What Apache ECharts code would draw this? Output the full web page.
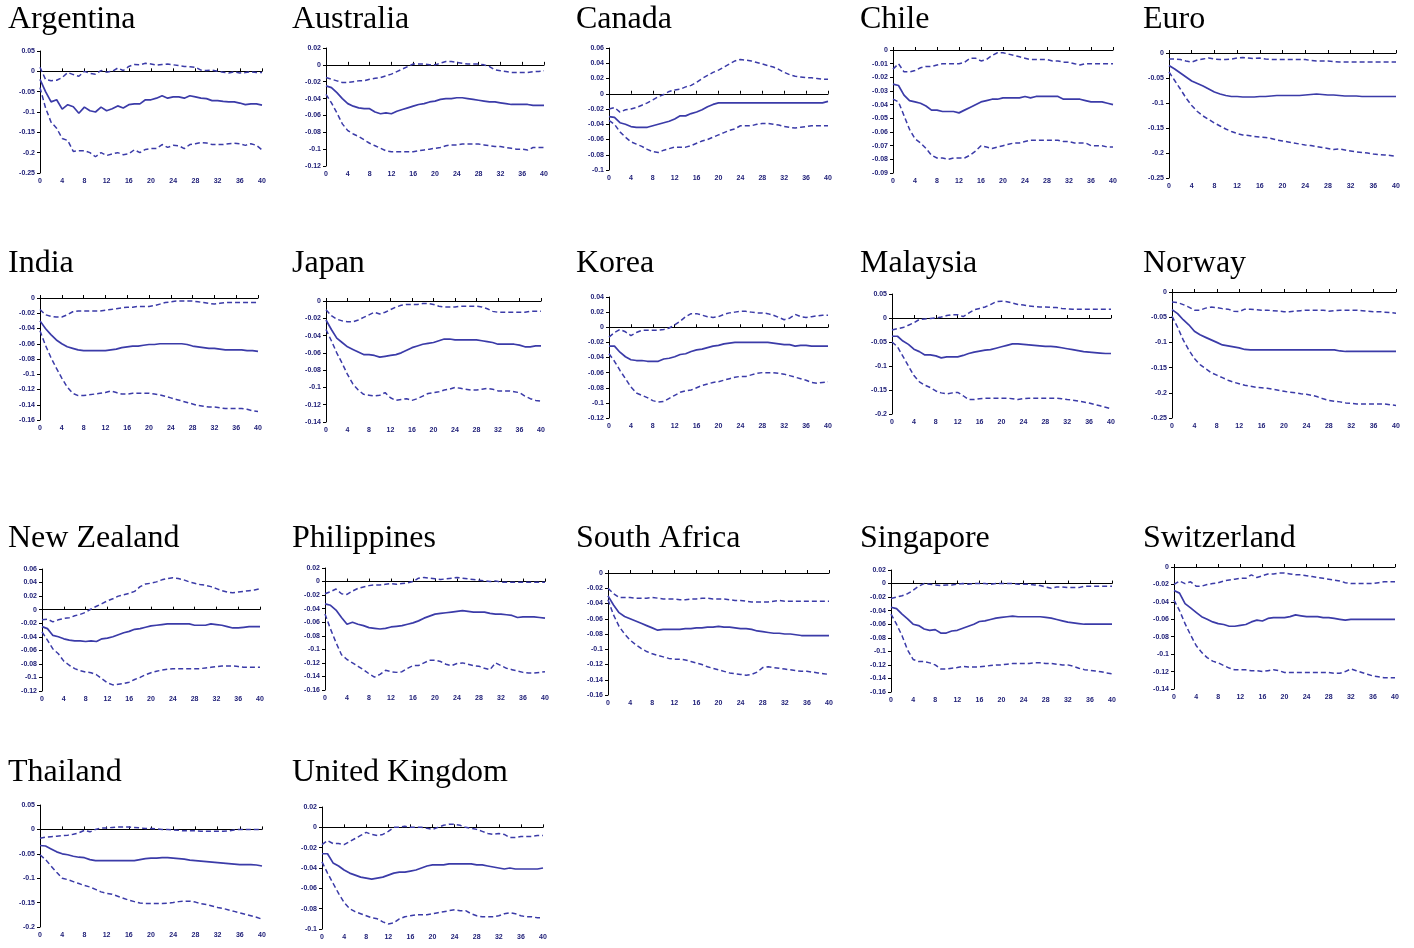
<!DOCTYPE html>
<html>
<head>
<meta charset="utf-8">
<title>Impulse responses by economy</title>
<script src="https://cdn.jsdelivr.net/npm/echarts@6.0.0/dist/echarts.min.js"></script>
<style>
  html, body { margin: 0; padding: 0; background: #ffffff; }
  #chart { width: 1414px; height: 948px; }
</style>
</head>
<body>
<div id="chart"></div>
<script>
// Horizon (quarters after the shock)
const PERIODS = Array.from({ length: 41 }, (_, i) => String(i));

const COUNTRIES = ['Argentina', 'Australia', 'Canada', 'Chile', 'Euro',
  'India', 'Japan', 'Korea', 'Malaysia', 'Norway',
  'New Zealand', 'Philippines', 'South Africa', 'Singapore', 'Switzerland',
  'Thailand', 'United Kingdom'];

// Y-axis ranges and tick steps per panel
const Y_MAX = [0.05, 0.02, 0.06, 0, 0, 0, 0, 0.04, 0.05, 0, 0.06, 0.02, 0, 0.02, 0, 0.05, 0.02];
const Y_MIN = [-0.25, -0.12, -0.1, -0.09, -0.25, -0.16, -0.14, -0.12, -0.2, -0.25, -0.12, -0.16, -0.16, -0.16, -0.14, -0.2, -0.1];
const Y_STEP = [0.05, 0.02, 0.02, 0.01, 0.05, 0.02, 0.02, 0.02, 0.05, 0.05, 0.02, 0.02, 0.02, 0.02, 0.02, 0.05, 0.02];

// Point response (solid) with upper / lower bands (dashed)
const ARGENTINA_IRF = [-0.02,-0.05,-0.075,-0.07,-0.093,-0.082,-0.087,-0.103,-0.088,-0.097,
  -0.1,-0.088,-0.097,-0.092,-0.085,-0.09,-0.082,-0.08,-0.08,-0.07,
  -0.07,-0.066,-0.06,-0.066,-0.063,-0.063,-0.066,-0.06,-0.063,-0.066,
  -0.067,-0.072,-0.072,-0.074,-0.075,-0.075,-0.078,-0.082,-0.08,-0.08,-0.083];
const ARGENTINA_UP = [0.01,-0.02,-0.023,-0.022,-0.015,-0.003,-0.008,-0.012,0,-0.005,
  -0.007,0.002,-0.002,0,0.008,0.002,0.012,0.017,0.016,0.02,
  0.018,0.015,0.017,0.018,0.016,0.014,0.012,0.011,0.01,0.003,
  0.002,0.003,0,-0.002,-0.004,-0.001,-0.004,-0.003,-0.001,-0.003,-0.003];
const ARGENTINA_LO = [-0.04,-0.09,-0.125,-0.14,-0.165,-0.17,-0.197,-0.195,-0.195,-0.2,
  -0.21,-0.2,-0.207,-0.203,-0.2,-0.205,-0.203,-0.193,-0.2,-0.192,
  -0.19,-0.19,-0.18,-0.187,-0.182,-0.183,-0.19,-0.18,-0.178,-0.175,
  -0.176,-0.18,-0.18,-0.18,-0.178,-0.177,-0.178,-0.182,-0.178,-0.182,-0.193];

const AUSTRALIA_IRF = [-0.025,-0.027,-0.033,-0.04,-0.046,-0.049,-0.051,-0.052,-0.052,-0.056,
  -0.058,-0.057,-0.058,-0.055,-0.053,-0.051,-0.049,-0.047,-0.046,-0.044,
  -0.043,-0.041,-0.04,-0.04,-0.039,-0.039,-0.04,-0.041,-0.042,-0.043,
  -0.044,-0.044,-0.045,-0.046,-0.047,-0.047,-0.047,-0.047,-0.048,-0.048,-0.048];
const AUSTRALIA_UP = [-0.015,-0.017,-0.019,-0.021,-0.021,-0.02,-0.019,-0.019,-0.017,-0.016,
  -0.015,-0.013,-0.011,-0.008,-0.005,-0.002,0.001,0.001,0.001,0,
  0,0.002,0.004,0.004,0.003,0.002,0.001,0.001,0.001,0,
  -0.002,-0.006,-0.007,-0.008,-0.009,-0.009,-0.009,-0.009,-0.008,-0.008,-0.007];
const AUSTRALIA_LO = [-0.035,-0.045,-0.057,-0.07,-0.078,-0.082,-0.085,-0.089,-0.093,-0.096,
  -0.099,-0.102,-0.103,-0.103,-0.103,-0.103,-0.103,-0.102,-0.101,-0.1,
  -0.099,-0.098,-0.096,-0.095,-0.095,-0.094,-0.094,-0.094,-0.094,-0.095,
  -0.096,-0.097,-0.097,-0.098,-0.099,-0.1,-0.1,-0.101,-0.098,-0.098,-0.098];

const CANADA_IRF = [-0.03,-0.031,-0.038,-0.04,-0.043,-0.044,-0.044,-0.044,-0.042,-0.04,
  -0.038,-0.036,-0.033,-0.029,-0.029,-0.026,-0.024,-0.021,-0.017,-0.014,
  -0.012,-0.012,-0.012,-0.012,-0.012,-0.012,-0.012,-0.012,-0.012,-0.012,
  -0.012,-0.012,-0.012,-0.012,-0.012,-0.012,-0.012,-0.012,-0.012,-0.012,-0.01];
const CANADA_UP = [-0.02,-0.018,-0.024,-0.021,-0.02,-0.018,-0.015,-0.012,-0.008,-0.004,
  -0.001,0.003,0.005,0.006,0.009,0.011,0.015,0.02,0.024,0.028,
  0.031,0.035,0.039,0.043,0.045,0.044,0.043,0.041,0.039,0.037,
  0.035,0.032,0.028,0.025,0.023,0.022,0.021,0.021,0.02,0.019,0.019];
const CANADA_LO = [-0.035,-0.04,-0.05,-0.057,-0.063,-0.066,-0.069,-0.073,-0.076,-0.077,
  -0.074,-0.072,-0.07,-0.07,-0.07,-0.068,-0.065,-0.062,-0.06,-0.057,
  -0.054,-0.051,-0.048,-0.046,-0.042,-0.042,-0.042,-0.04,-0.039,-0.039,
  -0.04,-0.041,-0.043,-0.044,-0.045,-0.044,-0.043,-0.042,-0.042,-0.042,-0.042];

const CHILE_IRF = [-0.025,-0.026,-0.033,-0.037,-0.038,-0.039,-0.041,-0.044,-0.044,-0.045,
  -0.045,-0.045,-0.046,-0.044,-0.042,-0.04,-0.038,-0.037,-0.036,-0.036,
  -0.035,-0.035,-0.035,-0.035,-0.034,-0.035,-0.034,-0.034,-0.034,-0.034,
  -0.034,-0.036,-0.036,-0.036,-0.036,-0.037,-0.038,-0.038,-0.038,-0.039,-0.04];
const CHILE_UP = [-0.014,-0.01,-0.016,-0.016,-0.015,-0.013,-0.012,-0.012,-0.011,-0.01,
  -0.01,-0.01,-0.01,-0.009,-0.006,-0.006,-0.008,-0.007,-0.004,-0.002,
  -0.002,-0.003,-0.004,-0.005,-0.006,-0.007,-0.007,-0.007,-0.007,-0.008,
  -0.008,-0.009,-0.009,-0.01,-0.011,-0.01,-0.01,-0.01,-0.01,-0.01,-0.01];
const CHILE_LO = [-0.036,-0.038,-0.048,-0.058,-0.065,-0.068,-0.072,-0.077,-0.079,-0.079,
  -0.08,-0.079,-0.079,-0.079,-0.077,-0.074,-0.07,-0.071,-0.072,-0.071,
  -0.07,-0.069,-0.068,-0.068,-0.067,-0.066,-0.066,-0.066,-0.066,-0.066,
  -0.066,-0.067,-0.067,-0.068,-0.068,-0.068,-0.07,-0.07,-0.07,-0.071,-0.071];

const EURO_IRF = [-0.025,-0.032,-0.04,-0.048,-0.056,-0.061,-0.066,-0.072,-0.078,-0.082,
  -0.085,-0.087,-0.087,-0.088,-0.088,-0.088,-0.087,-0.087,-0.086,-0.085,
  -0.085,-0.085,-0.085,-0.085,-0.084,-0.083,-0.082,-0.083,-0.084,-0.084,
  -0.085,-0.086,-0.086,-0.086,-0.087,-0.087,-0.087,-0.087,-0.087,-0.087,-0.087];
const EURO_UP = [-0.012,-0.012,-0.013,-0.016,-0.018,-0.014,-0.012,-0.01,-0.012,-0.013,
  -0.013,-0.012,-0.01,-0.009,-0.01,-0.011,-0.01,-0.012,-0.013,-0.013,
  -0.013,-0.013,-0.013,-0.013,-0.013,-0.015,-0.016,-0.016,-0.016,-0.017,
  -0.018,-0.018,-0.018,-0.018,-0.018,-0.018,-0.018,-0.018,-0.018,-0.018,-0.018];
const EURO_LO = [-0.038,-0.055,-0.072,-0.09,-0.105,-0.117,-0.126,-0.133,-0.14,-0.146,
  -0.152,-0.157,-0.161,-0.164,-0.165,-0.167,-0.168,-0.169,-0.171,-0.174,
  -0.176,-0.178,-0.18,-0.182,-0.184,-0.185,-0.187,-0.189,-0.191,-0.193,
  -0.192,-0.194,-0.196,-0.198,-0.199,-0.2,-0.202,-0.203,-0.204,-0.205,-0.207];

const INDIA_IRF = [-0.03,-0.04,-0.048,-0.055,-0.06,-0.064,-0.066,-0.068,-0.069,-0.069,
  -0.069,-0.069,-0.069,-0.068,-0.067,-0.065,-0.064,-0.063,-0.063,-0.062,
  -0.061,-0.061,-0.06,-0.06,-0.06,-0.06,-0.06,-0.061,-0.063,-0.064,
  -0.065,-0.066,-0.066,-0.067,-0.068,-0.068,-0.068,-0.068,-0.069,-0.069,-0.07];
const INDIA_UP = [-0.015,-0.022,-0.024,-0.025,-0.025,-0.022,-0.018,-0.017,-0.017,-0.017,
  -0.017,-0.017,-0.016,-0.015,-0.014,-0.013,-0.012,-0.012,-0.011,-0.011,
  -0.011,-0.01,-0.008,-0.006,-0.005,-0.004,-0.004,-0.004,-0.004,-0.005,
  -0.006,-0.007,-0.008,-0.007,-0.006,-0.006,-0.006,-0.006,-0.006,-0.006,-0.006];
const INDIA_LO = [-0.043,-0.062,-0.078,-0.092,-0.105,-0.117,-0.125,-0.128,-0.128,-0.127,
  -0.126,-0.125,-0.124,-0.122,-0.124,-0.126,-0.126,-0.125,-0.125,-0.125,
  -0.125,-0.126,-0.127,-0.129,-0.131,-0.133,-0.135,-0.137,-0.139,-0.141,
  -0.142,-0.143,-0.143,-0.144,-0.145,-0.145,-0.145,-0.145,-0.146,-0.148,-0.149];

const JAPAN_IRF = [-0.022,-0.033,-0.043,-0.048,-0.053,-0.056,-0.059,-0.062,-0.062,-0.063,
  -0.065,-0.064,-0.063,-0.062,-0.06,-0.057,-0.054,-0.052,-0.05,-0.049,
  -0.048,-0.046,-0.044,-0.044,-0.045,-0.045,-0.045,-0.045,-0.045,-0.046,
  -0.047,-0.048,-0.05,-0.05,-0.05,-0.05,-0.051,-0.053,-0.053,-0.052,-0.052];
const JAPAN_UP = [-0.01,-0.017,-0.021,-0.023,-0.024,-0.024,-0.022,-0.019,-0.016,-0.013,
  -0.015,-0.013,-0.01,-0.007,-0.005,-0.004,-0.004,-0.004,-0.003,-0.003,
  -0.004,-0.006,-0.007,-0.007,-0.007,-0.006,-0.006,-0.006,-0.006,-0.007,
  -0.009,-0.012,-0.013,-0.013,-0.013,-0.013,-0.013,-0.013,-0.012,-0.012,-0.012];
const JAPAN_LO = [-0.033,-0.046,-0.06,-0.072,-0.085,-0.096,-0.103,-0.108,-0.109,-0.11,
  -0.109,-0.106,-0.112,-0.115,-0.114,-0.113,-0.115,-0.113,-0.11,-0.107,
  -0.106,-0.105,-0.103,-0.102,-0.1,-0.101,-0.102,-0.103,-0.103,-0.102,
  -0.101,-0.102,-0.104,-0.104,-0.104,-0.105,-0.106,-0.11,-0.113,-0.115,-0.116];

const KOREA_IRF = [-0.025,-0.025,-0.033,-0.039,-0.043,-0.044,-0.044,-0.045,-0.045,-0.045,
  -0.042,-0.041,-0.039,-0.036,-0.035,-0.032,-0.03,-0.029,-0.027,-0.025,
  -0.024,-0.022,-0.021,-0.02,-0.02,-0.02,-0.02,-0.02,-0.02,-0.02,
  -0.021,-0.022,-0.023,-0.023,-0.025,-0.024,-0.024,-0.025,-0.025,-0.025,-0.025];
const KOREA_UP = [-0.013,-0.007,-0.003,-0.006,-0.011,-0.007,-0.004,-0.004,-0.004,-0.004,
  -0.003,-0.001,0.003,0.008,0.014,0.018,0.018,0.016,0.014,0.013,
  0.014,0.017,0.019,0.02,0.021,0.021,0.02,0.019,0.019,0.018,
  0.016,0.013,0.01,0.012,0.017,0.014,0.013,0.014,0.015,0.016,0.016];
const KOREA_LO = [-0.035,-0.045,-0.057,-0.068,-0.079,-0.087,-0.09,-0.093,-0.097,-0.099,
  -0.098,-0.094,-0.09,-0.086,-0.084,-0.083,-0.08,-0.077,-0.075,-0.073,
  -0.072,-0.07,-0.068,-0.066,-0.065,-0.065,-0.063,-0.061,-0.06,-0.06,
  -0.06,-0.061,-0.062,-0.064,-0.066,-0.068,-0.07,-0.073,-0.074,-0.073,-0.072];

const MALAYSIA_IRF = [-0.038,-0.038,-0.048,-0.055,-0.065,-0.07,-0.077,-0.077,-0.079,-0.083,
  -0.081,-0.081,-0.081,-0.078,-0.074,-0.071,-0.069,-0.067,-0.066,-0.063,
  -0.06,-0.057,-0.054,-0.054,-0.055,-0.056,-0.057,-0.058,-0.059,-0.059,
  -0.06,-0.062,-0.064,-0.066,-0.068,-0.07,-0.071,-0.072,-0.073,-0.074,-0.074];
const MALAYSIA_UP = [-0.025,-0.022,-0.02,-0.015,-0.01,-0.003,-0.002,-0.001,0,0.002,
  0.005,0.007,0.007,0.003,0.01,0.017,0.02,0.023,0.028,0.034,
  0.035,0.034,0.031,0.028,0.027,0.025,0.024,0.023,0.023,0.022,
  0.022,0.02,0.019,0.018,0.018,0.018,0.018,0.018,0.018,0.018,0.018];
const MALAYSIA_LO = [-0.05,-0.06,-0.08,-0.1,-0.12,-0.133,-0.14,-0.145,-0.152,-0.156,
  -0.158,-0.156,-0.155,-0.162,-0.17,-0.17,-0.168,-0.167,-0.167,-0.167,
  -0.167,-0.167,-0.168,-0.17,-0.168,-0.167,-0.167,-0.167,-0.167,-0.167,
  -0.167,-0.168,-0.17,-0.171,-0.173,-0.175,-0.177,-0.18,-0.183,-0.186,-0.189];

const NORWAY_IRF = [-0.035,-0.043,-0.055,-0.065,-0.078,-0.085,-0.09,-0.095,-0.1,-0.105,
  -0.107,-0.109,-0.111,-0.114,-0.115,-0.115,-0.115,-0.115,-0.115,-0.115,
  -0.115,-0.115,-0.115,-0.115,-0.115,-0.115,-0.115,-0.115,-0.115,-0.115,
  -0.117,-0.118,-0.118,-0.118,-0.118,-0.118,-0.118,-0.118,-0.118,-0.118,-0.118];
const NORWAY_UP = [-0.02,-0.021,-0.025,-0.03,-0.036,-0.036,-0.032,-0.03,-0.031,-0.033,
  -0.034,-0.038,-0.039,-0.034,-0.034,-0.035,-0.036,-0.036,-0.037,-0.038,
  -0.039,-0.039,-0.038,-0.037,-0.036,-0.036,-0.036,-0.036,-0.038,-0.037,
  -0.036,-0.036,-0.036,-0.036,-0.037,-0.038,-0.039,-0.039,-0.04,-0.041,-0.042];
const NORWAY_LO = [-0.048,-0.07,-0.095,-0.115,-0.132,-0.144,-0.152,-0.16,-0.165,-0.17,
  -0.175,-0.179,-0.182,-0.185,-0.187,-0.189,-0.19,-0.191,-0.193,-0.195,
  -0.197,-0.199,-0.2,-0.202,-0.203,-0.205,-0.208,-0.212,-0.215,-0.217,
  -0.218,-0.22,-0.221,-0.222,-0.222,-0.222,-0.222,-0.222,-0.222,-0.224,-0.225];

const NEW_ZEALAND_IRF = [-0.025,-0.028,-0.038,-0.04,-0.043,-0.045,-0.046,-0.046,-0.047,-0.046,
  -0.047,-0.043,-0.042,-0.04,-0.037,-0.034,-0.032,-0.029,-0.028,-0.026,
  -0.024,-0.023,-0.022,-0.021,-0.021,-0.021,-0.021,-0.021,-0.023,-0.023,
  -0.023,-0.021,-0.022,-0.023,-0.025,-0.027,-0.027,-0.026,-0.025,-0.025,-0.025];
const NEW_ZEALAND_UP = [-0.015,-0.014,-0.018,-0.015,-0.013,-0.012,-0.009,-0.007,-0.004,0.001,
  0.005,0.009,0.013,0.016,0.02,0.022,0.024,0.027,0.034,0.038,
  0.039,0.041,0.044,0.046,0.047,0.046,0.044,0.041,0.039,0.037,
  0.036,0.034,0.031,0.028,0.026,0.025,0.026,0.027,0.028,0.029,0.031];
const NEW_ZEALAND_LO = [-0.033,-0.045,-0.058,-0.065,-0.076,-0.082,-0.087,-0.09,-0.092,-0.093,
  -0.096,-0.102,-0.108,-0.111,-0.11,-0.109,-0.107,-0.103,-0.1,-0.096,
  -0.093,-0.091,-0.089,-0.088,-0.087,-0.087,-0.087,-0.087,-0.087,-0.087,
  -0.086,-0.085,-0.084,-0.083,-0.083,-0.083,-0.084,-0.085,-0.085,-0.085,-0.085];

const PHILIPPINES_IRF = [-0.033,-0.035,-0.042,-0.053,-0.063,-0.06,-0.063,-0.065,-0.068,-0.069,
  -0.07,-0.069,-0.067,-0.066,-0.065,-0.063,-0.061,-0.058,-0.054,-0.051,
  -0.048,-0.047,-0.046,-0.045,-0.044,-0.043,-0.044,-0.045,-0.045,-0.045,
  -0.047,-0.048,-0.048,-0.049,-0.05,-0.053,-0.052,-0.052,-0.052,-0.053,-0.054];
const PHILIPPINES_UP = [-0.018,-0.015,-0.011,-0.018,-0.019,-0.014,-0.01,-0.008,-0.006,-0.005,
  -0.005,-0.004,-0.003,-0.004,-0.003,-0.002,0,0.005,0.006,0.005,
  0.004,0.003,0.004,0.005,0.006,0.005,0.004,0.003,0.002,0.001,
  0,0.001,-0.001,-0.001,-0.001,-0.001,-0.001,-0.001,-0.001,-0.001,-0.001];
const PHILIPPINES_LO = [-0.048,-0.07,-0.09,-0.108,-0.115,-0.12,-0.125,-0.13,-0.136,-0.141,
  -0.137,-0.131,-0.133,-0.134,-0.133,-0.128,-0.124,-0.124,-0.12,-0.116,
  -0.116,-0.118,-0.122,-0.124,-0.121,-0.12,-0.122,-0.124,-0.125,-0.128,
  -0.13,-0.12,-0.124,-0.128,-0.13,-0.132,-0.134,-0.135,-0.135,-0.134,-0.133];

const SOUTH_AFRICA_IRF = [-0.03,-0.042,-0.052,-0.057,-0.06,-0.063,-0.066,-0.069,-0.072,-0.075,
  -0.074,-0.074,-0.074,-0.074,-0.073,-0.073,-0.072,-0.072,-0.071,-0.071,
  -0.07,-0.071,-0.071,-0.072,-0.073,-0.073,-0.074,-0.076,-0.077,-0.078,
  -0.079,-0.079,-0.08,-0.08,-0.081,-0.082,-0.082,-0.082,-0.082,-0.082,-0.082];
const SOUTH_AFRICA_UP = [-0.02,-0.027,-0.032,-0.032,-0.032,-0.033,-0.033,-0.033,-0.032,-0.033,
  -0.034,-0.034,-0.034,-0.035,-0.035,-0.034,-0.034,-0.033,-0.033,-0.034,
  -0.034,-0.034,-0.035,-0.036,-0.036,-0.037,-0.038,-0.038,-0.038,-0.038,
  -0.037,-0.036,-0.037,-0.037,-0.037,-0.037,-0.037,-0.037,-0.037,-0.037,-0.037];
const SOUTH_AFRICA_LO = [-0.035,-0.055,-0.07,-0.08,-0.088,-0.094,-0.099,-0.103,-0.106,-0.108,
  -0.11,-0.112,-0.113,-0.113,-0.114,-0.116,-0.118,-0.12,-0.123,-0.125,
  -0.127,-0.129,-0.131,-0.132,-0.133,-0.134,-0.133,-0.13,-0.124,-0.123,
  -0.124,-0.125,-0.126,-0.127,-0.128,-0.129,-0.129,-0.13,-0.131,-0.132,-0.133];

const SINGAPORE_IRF = [-0.035,-0.037,-0.045,-0.052,-0.06,-0.062,-0.067,-0.069,-0.068,-0.073,
  -0.073,-0.07,-0.069,-0.066,-0.063,-0.06,-0.056,-0.055,-0.053,-0.051,
  -0.05,-0.049,-0.048,-0.049,-0.049,-0.049,-0.049,-0.049,-0.05,-0.051,
  -0.053,-0.055,-0.057,-0.058,-0.059,-0.06,-0.06,-0.06,-0.06,-0.06,-0.06];
const SINGAPORE_UP = [-0.022,-0.02,-0.018,-0.015,-0.01,-0.004,0,-0.001,-0.002,-0.003,
  -0.002,-0.002,-0.001,0,-0.001,0,0,0,-0.001,0,
  0,0,0,-0.001,-0.001,-0.001,-0.002,-0.003,-0.005,-0.007,
  -0.005,-0.005,-0.006,-0.006,-0.006,-0.004,-0.004,-0.004,-0.004,-0.004,-0.004];
const SINGAPORE_LO = [-0.045,-0.06,-0.077,-0.098,-0.112,-0.115,-0.115,-0.117,-0.12,-0.126,
  -0.126,-0.125,-0.124,-0.122,-0.123,-0.123,-0.123,-0.122,-0.121,-0.12,
  -0.12,-0.119,-0.118,-0.118,-0.118,-0.118,-0.117,-0.117,-0.118,-0.118,
  -0.119,-0.12,-0.12,-0.122,-0.125,-0.127,-0.128,-0.129,-0.13,-0.132,-0.133];

const SWITZERLAND_IRF = [-0.027,-0.03,-0.042,-0.047,-0.052,-0.057,-0.06,-0.063,-0.065,-0.066,
  -0.068,-0.068,-0.067,-0.066,-0.063,-0.061,-0.062,-0.059,-0.058,-0.058,
  -0.058,-0.057,-0.055,-0.056,-0.057,-0.057,-0.057,-0.058,-0.058,-0.059,
  -0.06,-0.061,-0.06,-0.06,-0.06,-0.06,-0.06,-0.06,-0.06,-0.06,-0.06];
const SWITZERLAND_UP = [-0.02,-0.016,-0.019,-0.017,-0.022,-0.022,-0.02,-0.019,-0.018,-0.016,
  -0.015,-0.014,-0.013,-0.013,-0.009,-0.012,-0.01,-0.008,-0.008,-0.007,
  -0.007,-0.008,-0.009,-0.009,-0.01,-0.011,-0.012,-0.013,-0.014,-0.015,
  -0.016,-0.018,-0.019,-0.019,-0.019,-0.019,-0.019,-0.018,-0.017,-0.017,-0.017];
const SWITZERLAND_LO = [-0.038,-0.05,-0.065,-0.078,-0.09,-0.098,-0.104,-0.108,-0.11,-0.113,
  -0.116,-0.118,-0.118,-0.118,-0.119,-0.119,-0.12,-0.119,-0.118,-0.119,
  -0.121,-0.121,-0.121,-0.121,-0.121,-0.121,-0.121,-0.121,-0.121,-0.122,
  -0.122,-0.12,-0.117,-0.119,-0.121,-0.123,-0.125,-0.126,-0.127,-0.127,-0.127];

const THAILAND_IRF = [-0.033,-0.034,-0.04,-0.046,-0.05,-0.052,-0.055,-0.057,-0.058,-0.062,
  -0.064,-0.064,-0.064,-0.064,-0.064,-0.064,-0.064,-0.064,-0.062,-0.06,
  -0.059,-0.059,-0.058,-0.058,-0.059,-0.06,-0.061,-0.063,-0.064,-0.065,
  -0.066,-0.067,-0.068,-0.069,-0.07,-0.071,-0.072,-0.072,-0.072,-0.073,-0.075];
const THAILAND_UP = [-0.018,-0.016,-0.015,-0.014,-0.013,-0.012,-0.01,-0.007,-0.002,-0.005,
  0,0.003,0.003,0.004,0.005,0.005,0.005,0.004,0.003,0.002,
  0.002,0.001,0,0,-0.001,-0.002,-0.003,-0.003,-0.003,-0.004,
  -0.004,-0.004,-0.004,-0.004,-0.003,-0.001,0,0,0,0,0];
const THAILAND_LO = [-0.052,-0.062,-0.075,-0.088,-0.1,-0.103,-0.107,-0.111,-0.115,-0.118,
  -0.123,-0.128,-0.131,-0.133,-0.137,-0.141,-0.145,-0.148,-0.151,-0.152,
  -0.152,-0.152,-0.152,-0.151,-0.15,-0.148,-0.147,-0.147,-0.149,-0.152,
  -0.154,-0.157,-0.16,-0.162,-0.165,-0.168,-0.171,-0.174,-0.177,-0.18,-0.184];

const UK_IRF = [-0.026,-0.026,-0.035,-0.038,-0.042,-0.045,-0.047,-0.049,-0.05,-0.051,
  -0.05,-0.049,-0.047,-0.045,-0.044,-0.044,-0.043,-0.042,-0.04,-0.038,
  -0.037,-0.037,-0.037,-0.036,-0.036,-0.036,-0.036,-0.036,-0.037,-0.037,
  -0.038,-0.039,-0.04,-0.041,-0.04,-0.041,-0.041,-0.041,-0.041,-0.041,-0.04];
const UK_UP = [-0.017,-0.013,-0.016,-0.016,-0.017,-0.014,-0.011,-0.008,-0.005,-0.007,
  -0.008,-0.007,-0.004,0,0,0.001,0,0,0,-0.001,
  -0.002,0,0.002,0.003,0.003,0.002,0,-0.001,-0.002,-0.004,
  -0.006,-0.007,-0.006,-0.007,-0.01,-0.01,-0.009,-0.009,-0.009,-0.008,-0.008];
const UK_LO = [-0.034,-0.045,-0.055,-0.065,-0.074,-0.08,-0.083,-0.085,-0.087,-0.089,
  -0.09,-0.093,-0.095,-0.094,-0.09,-0.088,-0.087,-0.086,-0.086,-0.086,
  -0.085,-0.084,-0.083,-0.082,-0.081,-0.082,-0.082,-0.085,-0.087,-0.088,
  -0.088,-0.088,-0.087,-0.085,-0.084,-0.085,-0.087,-0.088,-0.088,-0.089,-0.089];

const IRF = [ARGENTINA_IRF, AUSTRALIA_IRF, CANADA_IRF, CHILE_IRF, EURO_IRF,
  INDIA_IRF, JAPAN_IRF, KOREA_IRF, MALAYSIA_IRF, NORWAY_IRF,
  NEW_ZEALAND_IRF, PHILIPPINES_IRF, SOUTH_AFRICA_IRF, SINGAPORE_IRF, SWITZERLAND_IRF,
  THAILAND_IRF, UK_IRF];
const UPPER = [ARGENTINA_UP, AUSTRALIA_UP, CANADA_UP, CHILE_UP, EURO_UP,
  INDIA_UP, JAPAN_UP, KOREA_UP, MALAYSIA_UP, NORWAY_UP,
  NEW_ZEALAND_UP, PHILIPPINES_UP, SOUTH_AFRICA_UP, SINGAPORE_UP, SWITZERLAND_UP,
  THAILAND_UP, UK_UP];
const LOWER = [ARGENTINA_LO, AUSTRALIA_LO, CANADA_LO, CHILE_LO, EURO_LO,
  INDIA_LO, JAPAN_LO, KOREA_LO, MALAYSIA_LO, NORWAY_LO,
  NEW_ZEALAND_LO, PHILIPPINES_LO, SOUTH_AFRICA_LO, SINGAPORE_LO, SWITZERLAND_LO,
  THAILAND_LO, UK_LO];

// ---- layout: plot boxes [left, top, right, bottom] in pixels ----
const BOXES = [
  [40, 51, 262, 173], [326, 48, 544, 166], [609, 48, 828, 170], [893, 50, 1113, 173], [1169, 53, 1396, 178],
  [40, 298, 258, 420], [326, 301, 541, 422], [609, 297, 828, 418], [892, 294, 1111, 414], [1172, 292, 1396, 418],
  [42, 569, 260, 691], [325, 568, 545, 690], [608, 573, 829, 695], [891, 570, 1112, 692], [1174, 567, 1395, 689],
  [40, 805, 262, 927], [322, 807, 543, 929]
];
const TITLE_X = [8, 292, 576, 860, 1143];
const TITLE_Y = [4, 248, 523, 757];

const LINE_BLUE = '#3b3ba8';
const LABEL_NAVY = '#202078';
const labelFont = { color: LABEL_NAVY, fontSize: 7, fontWeight: 'bold', fontFamily: 'Liberation Sans' };

const fmt = v => String(parseFloat(Number(v).toFixed(4)));

const option = {
  backgroundColor: '#ffffff',
  animation: false,
  title: [], grid: [], xAxis: [], yAxis: [], series: []
};

COUNTRIES.forEach((name, i) => {
  const b = BOXES[i];
  const row = Math.floor(i / 5), col = i % 5;
  option.title.push({
    text: name, left: TITLE_X[col], top: TITLE_Y[row], padding: 0,
    textStyle: { fontFamily: 'Liberation Serif', fontSize: 32, fontWeight: 'normal', color: '#000000' }
  });
  option.grid.push({
    left: b[0], top: b[1], width: b[2] - b[0], height: b[3] - b[1],
    containLabel: false, outerBoundsMode: 'none'
  });
  // bottom axis: period labels only
  option.xAxis.push({
    type: 'category', gridIndex: i, data: PERIODS, boundaryGap: false, position: 'bottom',
    axisLine: { show: false, onZero: false }, axisTick: { show: false },
    axisLabel: Object.assign({ interval: 3, margin: 5 }, labelFont),
    splitLine: { show: false }
  });
  // zero line with upward ticks
  option.xAxis.push({
    type: 'category', gridIndex: i, data: PERIODS, boundaryGap: false, position: 'top',
    axisLine: { show: true, onZero: true, lineStyle: { color: '#000000', width: 1 } },
    axisTick: { show: true, interval: 3, length: 3, lineStyle: { color: '#000000', width: 1 } },
    axisLabel: { show: false }, splitLine: { show: false }
  });
  option.yAxis.push({
    type: 'value', gridIndex: i, min: Y_MIN[i], max: Y_MAX[i], interval: Y_STEP[i],
    axisLine: { show: true, onZero: false, lineStyle: { color: '#000000', width: 1 } },
    axisTick: { show: true, length: 3, lineStyle: { color: '#000000', width: 1 } },
    axisLabel: Object.assign({ margin: 5, formatter: fmt }, labelFont),
    splitLine: { show: false }
  });
  const base = { type: 'line', xAxisIndex: 2 * i, yAxisIndex: i, symbol: 'none', silent: true };
  option.series.push(Object.assign({}, base, {
    name: name + ' upper', data: UPPER[i],
    lineStyle: { color: LINE_BLUE, width: 1.5, type: [5, 3] }
  }));
  option.series.push(Object.assign({}, base, {
    name: name + ' lower', data: LOWER[i],
    lineStyle: { color: LINE_BLUE, width: 1.5, type: [5, 3] }
  }));
  option.series.push(Object.assign({}, base, {
    name: name, data: IRF[i],
    lineStyle: { color: LINE_BLUE, width: 1.7, type: 'solid' }
  }));
});

const chart = echarts.init(document.getElementById('chart'), null, { renderer: 'canvas' });
chart.setOption(option);
</script>
</body>
</html>
